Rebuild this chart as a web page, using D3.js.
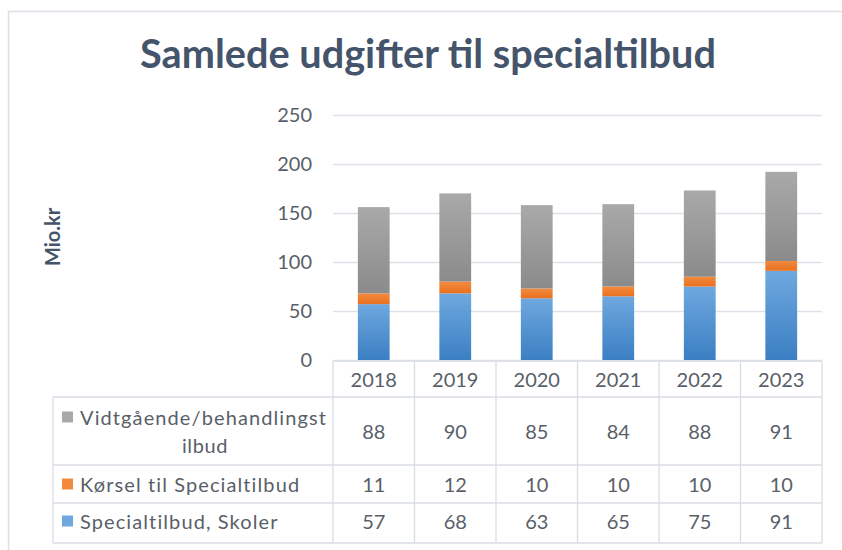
<!DOCTYPE html>
<html>
<head>
<meta charset="utf-8">
<script src="https://cdn.jsdelivr.net/npm/d3@7"></script>
<style>
  body { margin: 0; background: #fff; }
  svg { display: block; }
</style>
</head>
<body>
<svg id="chart"></svg>
<script>
// values (Mio. kr)
const years = ['2018', '2019', '2020', '2021', '2022', '2023'];
const skoler = [57, 68, 63, 65, 75, 91];
const koersel = [11, 12, 10, 10, 10, 10];
const vidtgaaende = [88, 90, 85, 84, 88, 91];
const seriesKeys = ['skoler', 'koersel', 'vidtgaaende'];
const seriesLabels = ['Specialtilbud, Skoler', 'Kørsel til Specialtilbud', 'Vidtgående/behandlingstilbud'];
const yTicks = [0, 50, 100, 150, 200, 250];

const width = 842, height = 550;
const plot = {left: 333, right: 822, top: 115, bottom: 360};
const textCol = '#595f69';

const svg = d3.select('#chart')
  .attr('width', width)
  .attr('height', height)
  .style('font-family', 'Lato, "Open Sans", sans-serif');

// gradients for the bar segments
const defs = svg.append('defs');
const grads = {
  skoler: ['#6ea8df', '#3b7fc3'],
  koersel: ['#f28a3e', '#e9701f'],
  vidtgaaende: ['#a9a9a9', '#8b8b8b']
};
Object.keys(grads).forEach(k => {
  const g = defs.append('linearGradient')
    .attr('id', 'g-' + k)
    .attr('x1', 0).attr('y1', 0).attr('x2', 0).attr('y2', 1);
  g.append('stop').attr('offset', '0%').attr('stop-color', grads[k][0]);
  g.append('stop').attr('offset', '100%').attr('stop-color', grads[k][1]);
});

// chart frame
svg.append('rect')
  .attr('x', 8.5).attr('y', 11.5)
  .attr('width', 860).attr('height', 560)
  .attr('fill', 'none')
  .attr('stroke', '#dce0e6')
  .attr('stroke-width', 1.5);

// title, fitted to the width it has in the picture
const title = svg.append('text')
  .attr('x', 428)
  .attr('y', 68)
  .attr('text-anchor', 'middle')
  .style('font-weight', 'bold')
  .style('font-size', '34px')
  .style('fill', '#44546a')
  .text('Samlede udgifter til specialtilbud');
const tLen = title.node().getComputedTextLength();
title.style('font-size', (34 * 576 / tLen) + 'px');

// scales
const xScale = d3.scaleBand()
  .domain(years)
  .range([plot.left, plot.right]);

const xBar = d3.scaleBand()
  .domain(years)
  .range([plot.left, plot.right])
  .paddingInner(0.61)
  .paddingOuter(0.305);

const yScale = d3.scaleLinear()
  .domain([0, 250])
  .range([plot.bottom, plot.top]);

// y axis with gridlines
const yAxis = svg.append('g')
  .attr('transform', `translate(${plot.left}, 0)`)
  .call(d3.axisLeft(yScale)
    .tickValues(yTicks)
    .tickSize(-(plot.right - plot.left))
    .tickPadding(21));
yAxis.select('.domain').remove();
yAxis.selectAll('.tick line')
  .attr('stroke', '#dde1e8')
  .attr('stroke-width', 1.3);
yAxis.selectAll('.tick text')
  .style('font-family', 'Lato, "Open Sans", sans-serif')
  .style('font-size', '20px')
  .style('fill', textCol);

svg.append('text')
  .attr('transform', 'translate(60, 237) rotate(-90)')
  .attr('text-anchor', 'middle')
  .style('font-weight', 'bold')
  .style('font-size', '20px')
  .style('fill', '#44546a')
  .text('Mio.kr');

// stacked bars
const rows = years.map((y, i) => ({
  year: y, skoler: skoler[i], koersel: koersel[i], vidtgaaende: vidtgaaende[i]
}));
const stacked = d3.stack().keys(seriesKeys)(rows);

svg.append('g')
  .selectAll('g')
  .data(stacked)
  .join('g')
  .attr('fill', d => `url(#g-${d.key})`)
  .selectAll('rect')
  .data(d => d)
  .join('rect')
  .attr('x', d => xBar(d.data.year))
  .attr('y', d => yScale(d[1]))
  .attr('width', xBar.bandwidth())
  .attr('height', d => yScale(d[0]) - yScale(d[1]));

// data table under the plot
const lineCol = '#d8dde4';
const table = svg.append('g')
  .attr('stroke', lineCol)
  .attr('stroke-width', 1.3)
  .attr('fill', 'none');

const rowEdges = [361, 397, 465, 503, 543];
const legendLeft = 53;

// horizontal lines
rowEdges.forEach((y, i) => {
  table.append('line')
    .attr('x1', i === 0 ? plot.left : legendLeft)
    .attr('x2', plot.right)
    .attr('y1', y).attr('y2', y);
});
// vertical lines
table.append('line')
  .attr('x1', legendLeft).attr('x2', legendLeft)
  .attr('y1', rowEdges[1]).attr('y2', rowEdges[4]);
years.concat(['end']).forEach((y, i) => {
  const x = plot.left + i * xScale.step();
  table.append('line')
    .attr('x1', x).attr('x2', x)
    .attr('y1', rowEdges[0]).attr('y2', rowEdges[4]);
});

// year header
svg.append('g')
  .selectAll('text')
  .data(years)
  .join('text')
  .attr('x', d => xScale(d) + xScale.bandwidth() / 2)
  .attr('y', 379)
  .attr('text-anchor', 'middle')
  .attr('dominant-baseline', 'central')
  .style('font-size', '20px')
  .style('fill', textCol)
  .text(d => d);

// table rows, top to bottom: vidtgaaende, koersel, skoler
const tableRows = [
  {key: 'vidtgaaende', values: vidtgaaende, cy: 431, lines: ['Vidtgående/behandlingst', 'ilbud'], ly: [417, 445]},
  {key: 'koersel', values: koersel, cy: 484, lines: ['Kørsel til Specialtilbud'], ly: [484]},
  {key: 'skoler', values: skoler, cy: 521, lines: ['Specialtilbud, Skoler'], ly: [521]}
];

tableRows.forEach(r => {
  const g = svg.append('g');
  g.append('rect')
    .attr('x', 62)
    .attr('y', r.ly[0] - 5.5)
    .attr('width', 11)
    .attr('height', 11)
    .attr('fill', grads[r.key][0]);
  r.lines.forEach((t, j) => {
    g.append('text')
      .attr('x', j === 0 ? 80 : 205)
      .attr('y', r.ly[j])
      .attr('text-anchor', j === 0 ? 'start' : 'middle')
      .attr('dominant-baseline', 'central')
      .style('font-size', '20px')
      .style('letter-spacing', j === 0 ? '1.1px' : '0.6px')
      .style('fill', textCol)
      .text(t);
  });
  g.selectAll('.val')
    .data(r.values)
    .join('text')
    .attr('class', 'val')
    .attr('x', (d, i) => xScale(years[i]) + xScale.bandwidth() / 2)
    .attr('y', r.cy)
    .attr('text-anchor', 'middle')
    .attr('dominant-baseline', 'central')
    .style('font-size', '20px')
    .style('fill', textCol)
    .text(d => d);
});
</script>
</body>
</html>
